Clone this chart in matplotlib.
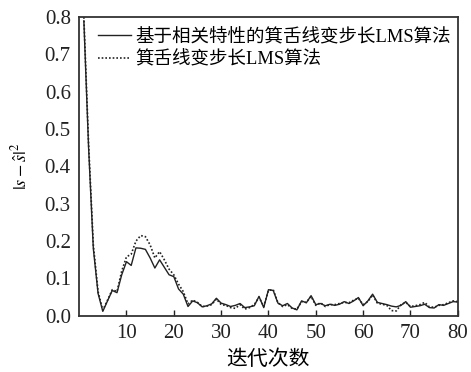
import matplotlib
matplotlib.use("Agg")
import matplotlib.pyplot as plt
import numpy as np

plt.rcParams['font.family'] = ['Liberation Serif', 'Noto Sans CJK SC']
plt.rcParams['mathtext.fontset'] = 'stix'

iterations = list(range(1, 81))
proposed = [0.79, 0.45, 0.18, 0.06, 0.012, 0.04, 0.068, 0.062, 0.11, 0.145,
            0.135, 0.182, 0.181, 0.178, 0.155, 0.128, 0.15, 0.13, 0.11, 0.105,
            0.072, 0.058, 0.025, 0.04, 0.035, 0.024, 0.027, 0.032, 0.047, 0.034,
            0.03, 0.025, 0.028, 0.033, 0.022, 0.024, 0.027, 0.052, 0.022, 0.07,
            0.068, 0.034, 0.027, 0.033, 0.021, 0.016, 0.04, 0.035, 0.054, 0.03,
            0.033, 0.027, 0.031, 0.028, 0.031, 0.038, 0.033, 0.04, 0.049, 0.027,
            0.04, 0.058, 0.036, 0.033, 0.03, 0.026, 0.024, 0.028, 0.038, 0.023,
            0.025, 0.027, 0.031, 0.022, 0.021, 0.03, 0.028, 0.033, 0.038, 0.037]
baseline = [0.80, 0.46, 0.19, 0.065, 0.015, 0.042, 0.07, 0.065, 0.12, 0.158,
            0.165, 0.20, 0.215, 0.212, 0.19, 0.155, 0.172, 0.15, 0.125, 0.11,
            0.085, 0.065, 0.032, 0.042, 0.036, 0.025, 0.026, 0.03, 0.045, 0.03,
            0.028, 0.022, 0.02, 0.03, 0.018, 0.022, 0.03, 0.05, 0.025, 0.068,
            0.07, 0.035, 0.025, 0.03, 0.02, 0.018, 0.038, 0.036, 0.052, 0.028,
            0.035, 0.025, 0.03, 0.03, 0.033, 0.036, 0.035, 0.042, 0.047, 0.03,
            0.038, 0.056, 0.034, 0.031, 0.028, 0.014, 0.013, 0.03, 0.036, 0.025,
            0.027, 0.03, 0.036, 0.024, 0.023, 0.028, 0.03, 0.035, 0.04, 0.038]

labels = ['基于相关特性的箕舌线变步长LMS算法', '箕舌线变步长LMS算法']
xticks = [10, 20, 30, 40, 50, 60, 70, 80]
yticks = [0.0, 0.1, 0.2, 0.3, 0.4, 0.5, 0.6, 0.7, 0.8]

fig = plt.figure(figsize=(4.71, 3.72), dpi=100)
ax = fig.add_axes([0.168, 0.151, 0.804, 0.803])

ax.plot(iterations, proposed, color='#222222', lw=1.0, ls='-', label=labels[0])
ax.plot(iterations, baseline, color='#222222', lw=1.2, ls=(0, (1, 1.2)), label=labels[1])

ax.set_xlim(0, 80)
ax.set_ylim(0, 0.8)
ax.set_xticks(xticks)
ax.set_yticks(yticks)
ax.set_yticklabels([f'{v:.1f}' for v in yticks])
ax.tick_params(axis='both', direction='in', labelsize=15, length=4, width=1, colors='#222222')
ax.tick_params(axis='x', pad=6)
ax.tick_params(axis='y', length=0, pad=6)
for s in ax.spines.values():
    s.set_linewidth(1.3)
    s.set_color('#333333')

ax.set_xlabel('迭代次数', fontsize=15, labelpad=5)
ax.set_ylabel(r'$|s-\hat{s}|^2$', fontsize=13, labelpad=10)

leg = ax.legend(loc='upper left', frameon=False, fontsize=13.3, handlelength=1.8,
                handletextpad=0.25, borderaxespad=0.2, labelspacing=0.3,
                bbox_to_anchor=(0.02, 1.0))

fig.savefig('out.png', dpi=100)
